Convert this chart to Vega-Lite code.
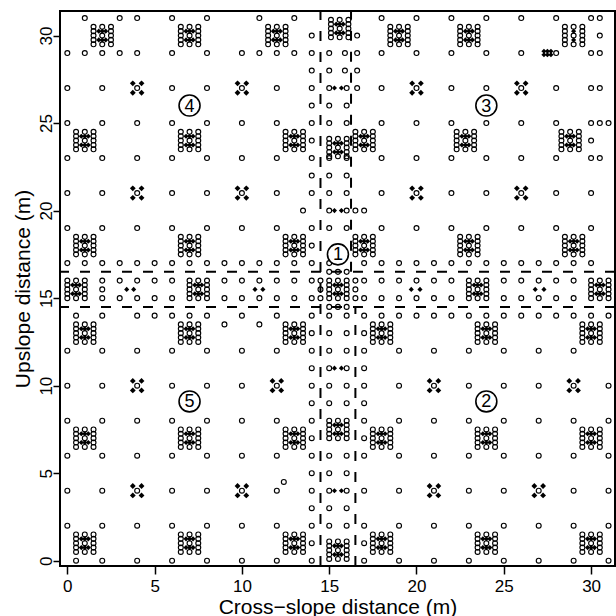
{
"$schema":"https://vega.github.io/schema/vega-lite/v6.json",
"width":555,"height":555,
"autosize":{"type":"none"},
"padding":{"left":60,"top":11,"right":1,"bottom":50},
"background":"white",
"config":{"view":{"stroke":"black","strokeWidth":2},"font":"Liberation Sans"},
"datasets":{
"grid":[
{"x":1,"y":31},{"x":3,"y":31},{"x":4,"y":31},{"x":6,"y":31},{"x":8,"y":31},{"x":11,"y":31},{"x":13,"y":31},{"x":18,"y":31},{"x":20,"y":31},{"x":22,"y":31},{"x":24,"y":31},{"x":26,"y":31},{"x":28,"y":31},{"x":30,"y":31},{"x":30.5,"y":31},
{"x":14,"y":30},{"x":16.6,"y":30},{"x":30.5,"y":30},
{"x":0,"y":29},{"x":1,"y":29},{"x":2,"y":29},{"x":3,"y":29},{"x":4,"y":29},{"x":6,"y":29},{"x":8,"y":29},{"x":10,"y":29},{"x":11,"y":29},{"x":12,"y":29},{"x":13,"y":29},{"x":14,"y":29},{"x":15,"y":29},{"x":15.9,"y":29},{"x":16.6,"y":29},{"x":18,"y":29},{"x":20,"y":29},{"x":22,"y":29},{"x":24,"y":29},{"x":26,"y":29},{"x":28,"y":29},{"x":30,"y":29},{"x":30.5,"y":29},
{"x":14,"y":28},{"x":15,"y":28},{"x":15.9,"y":28},{"x":16.6,"y":28},
{"x":0,"y":27},{"x":2,"y":27},{"x":6,"y":27},{"x":8,"y":27},{"x":12,"y":27},{"x":14,"y":27},{"x":15,"y":27},{"x":16,"y":27},{"x":16.6,"y":27},{"x":18,"y":27},{"x":22,"y":27},{"x":24,"y":27},{"x":28,"y":27},{"x":30,"y":27},{"x":30.5,"y":27},
{"x":14,"y":26},{"x":15,"y":26},{"x":16,"y":26},
{"x":0,"y":25},{"x":2,"y":25},{"x":4,"y":25},{"x":6,"y":25},{"x":8,"y":25},{"x":10,"y":25},{"x":12,"y":25},{"x":14,"y":25},{"x":15,"y":25},{"x":16,"y":25},{"x":18,"y":25},{"x":20,"y":25},{"x":22,"y":25},{"x":24,"y":25},{"x":26,"y":25},{"x":28,"y":25},{"x":30,"y":25},{"x":30.5,"y":25},{"x":31,"y":25},
{"x":14,"y":24},{"x":30,"y":24},
{"x":0,"y":23},{"x":2,"y":23},{"x":4,"y":23},{"x":6,"y":23},{"x":8,"y":23},{"x":10,"y":23},{"x":12,"y":23},{"x":14,"y":23},{"x":15,"y":23},{"x":16,"y":23},{"x":18,"y":23},{"x":20,"y":23},{"x":22,"y":23},{"x":24,"y":23},{"x":26,"y":23},{"x":28,"y":23},{"x":30,"y":23},{"x":30.5,"y":23},
{"x":14,"y":22},{"x":15,"y":22},{"x":16,"y":22},
{"x":0,"y":21},{"x":2,"y":21},{"x":6,"y":21},{"x":8,"y":21},{"x":12,"y":21},{"x":14,"y":21},{"x":15,"y":21},{"x":16,"y":21},{"x":18,"y":21},{"x":22,"y":21},{"x":24,"y":21},{"x":28,"y":21},{"x":30,"y":21},
{"x":13.5,"y":20},{"x":15,"y":20},{"x":16,"y":20},{"x":16.5,"y":20},{"x":17,"y":20},
{"x":0,"y":19},{"x":2,"y":19},{"x":4,"y":19},{"x":6,"y":19},{"x":8,"y":19},{"x":10,"y":19},{"x":12,"y":19},{"x":14,"y":19},{"x":15,"y":19},{"x":16,"y":19},{"x":18,"y":19},{"x":20,"y":19},{"x":22,"y":19},{"x":24,"y":19},{"x":26,"y":19},{"x":28,"y":19},{"x":30,"y":19},
{"x":14,"y":18},
{"x":0,"y":17},{"x":1,"y":17},{"x":2,"y":17},{"x":3,"y":17},{"x":4,"y":17},{"x":5,"y":17},{"x":6,"y":17},{"x":7,"y":17},{"x":8,"y":17},{"x":9,"y":17},{"x":10,"y":17},{"x":11,"y":17},{"x":12,"y":17},{"x":13,"y":17},{"x":14,"y":17},{"x":15,"y":17},{"x":17,"y":17},{"x":18,"y":17},{"x":19,"y":17},{"x":20,"y":17},{"x":21,"y":17},{"x":22,"y":17},{"x":23,"y":17},{"x":24,"y":17},{"x":25,"y":17},{"x":26,"y":17},{"x":27,"y":17},{"x":28,"y":17},{"x":29,"y":17},{"x":30,"y":17},
{"x":2,"y":16},{"x":3,"y":16},{"x":4,"y":16},{"x":5,"y":16},{"x":6,"y":16},{"x":9,"y":16},{"x":10,"y":16},{"x":11,"y":16},{"x":12,"y":16},{"x":13,"y":16},{"x":14,"y":16},{"x":17,"y":16},{"x":18,"y":16},{"x":19,"y":16},{"x":20,"y":16},{"x":21,"y":16},{"x":22,"y":16},{"x":25,"y":16},{"x":26,"y":16},{"x":27,"y":16},{"x":28,"y":16},{"x":29,"y":16},
{"x":2,"y":15.5},
{"x":2,"y":15},{"x":3,"y":15},{"x":4,"y":15},{"x":5,"y":15},{"x":6,"y":15},{"x":9,"y":15},{"x":10,"y":15},{"x":11,"y":15},{"x":12,"y":15},{"x":13,"y":15},{"x":14,"y":15},{"x":17,"y":15},{"x":18,"y":15},{"x":19,"y":15},{"x":20,"y":15},{"x":21,"y":15},{"x":22,"y":15},{"x":25,"y":15},{"x":26,"y":15},{"x":27,"y":15},{"x":28,"y":15},{"x":29,"y":15},
{"x":14.5,"y":15},{"x":14.5,"y":15.5},{"x":14.5,"y":16},{"x":16.5,"y":15},{"x":16.5,"y":15.5},{"x":16.5,"y":16},{"x":15,"y":16.5},{"x":15.5,"y":16.5},{"x":16,"y":16.5},{"x":15,"y":14.5},{"x":15.5,"y":14.5},{"x":16,"y":14.5},
{"x":0.5,"y":14},{"x":2,"y":14},{"x":4,"y":14},{"x":5,"y":14},{"x":6,"y":14},{"x":7,"y":14},{"x":8,"y":14},{"x":10,"y":14},{"x":12,"y":14},{"x":14,"y":14},{"x":15,"y":14},{"x":16,"y":14},{"x":17,"y":14},{"x":18,"y":14},{"x":19,"y":14},{"x":20,"y":14},{"x":21,"y":14},{"x":22,"y":14},{"x":23,"y":14},{"x":24,"y":14},{"x":25,"y":14},{"x":26,"y":14},{"x":27,"y":14},{"x":28,"y":14},{"x":29,"y":14},{"x":30,"y":14},{"x":31,"y":14},
{"x":9,"y":13.5},{"x":11,"y":13.5},
{"x":14,"y":13},{"x":15,"y":13},{"x":16,"y":13},{"x":17,"y":13},
{"x":0,"y":12},{"x":2,"y":12},{"x":4,"y":12},{"x":6,"y":12},{"x":8,"y":12},{"x":10,"y":12},{"x":12,"y":12},{"x":14,"y":12},{"x":15,"y":12},{"x":16,"y":12},{"x":17,"y":12},{"x":19,"y":12},{"x":21,"y":12},{"x":23,"y":12},{"x":25,"y":12},{"x":27,"y":12},{"x":29,"y":12},
{"x":14,"y":11},{"x":15,"y":11},{"x":16,"y":11},{"x":17,"y":11},
{"x":0,"y":10},{"x":2,"y":10},{"x":6,"y":10},{"x":8,"y":10},{"x":10,"y":10},{"x":14,"y":10},{"x":15,"y":10},{"x":16,"y":10},{"x":17,"y":10},{"x":19,"y":10},{"x":23,"y":10},{"x":25,"y":10},{"x":27,"y":10},{"x":31,"y":10},
{"x":14,"y":9},{"x":15,"y":9},{"x":16,"y":9},{"x":17,"y":9},
{"x":0,"y":8},{"x":2,"y":8},{"x":4,"y":8},{"x":6,"y":8},{"x":8,"y":8},{"x":10,"y":8},{"x":12,"y":8},{"x":14,"y":8},{"x":17,"y":8},{"x":19,"y":8},{"x":21,"y":8},{"x":23,"y":8},{"x":25,"y":8},{"x":27,"y":8},{"x":29,"y":8},{"x":31,"y":8},
{"x":14,"y":7},{"x":17,"y":7},
{"x":0,"y":6},{"x":2,"y":6},{"x":4,"y":6},{"x":6,"y":6},{"x":8,"y":6},{"x":10,"y":6},{"x":12,"y":6},{"x":14,"y":6},{"x":15,"y":6},{"x":16,"y":6},{"x":17,"y":6},{"x":19,"y":6},{"x":21,"y":6},{"x":23,"y":6},{"x":25,"y":6},{"x":27,"y":6},{"x":29,"y":6},{"x":31,"y":6},
{"x":14,"y":5},{"x":15,"y":5},{"x":16,"y":5},
{"x":12.4,"y":4.5},
{"x":0,"y":4},{"x":2,"y":4},{"x":6,"y":4},{"x":8,"y":4},{"x":12,"y":4},{"x":14,"y":4},{"x":15,"y":4},{"x":16,"y":4},{"x":17,"y":4},{"x":19,"y":4},{"x":23,"y":4},{"x":25,"y":4},{"x":29,"y":4},{"x":31,"y":4},
{"x":14,"y":3},{"x":15,"y":3},{"x":16,"y":3},
{"x":0,"y":2},{"x":2,"y":2},{"x":4,"y":2},{"x":6,"y":2},{"x":8,"y":2},{"x":10,"y":2},{"x":12,"y":2},{"x":14,"y":2},{"x":15,"y":2},{"x":16,"y":2},{"x":17,"y":2},{"x":19,"y":2},{"x":21,"y":2},{"x":23,"y":2},{"x":25,"y":2},{"x":27,"y":2},{"x":29,"y":2},{"x":31,"y":2},
{"x":14,"y":1},{"x":17,"y":1},
{"x":0.5,"y":0},{"x":2,"y":0},{"x":4,"y":0},{"x":6,"y":0},{"x":8,"y":0},{"x":10,"y":0},{"x":12,"y":0},{"x":14,"y":0},{"x":17,"y":0},{"x":19,"y":0},{"x":21,"y":0},{"x":23,"y":0},{"x":25,"y":0},{"x":27,"y":0},{"x":29,"y":0},{"x":31,"y":0},
{"x":4,"y":27},{"x":10,"y":27},{"x":20,"y":27},{"x":26,"y":27},{"x":4,"y":21},{"x":10,"y":21},{"x":20,"y":21},{"x":26,"y":21},{"x":4,"y":10},{"x":12,"y":10},{"x":21,"y":10},{"x":29,"y":10},{"x":4,"y":4},{"x":10,"y":4},{"x":21,"y":4},{"x":27,"y":4}
],
"clus":[
{"x":0.5,"y":0.5},{"x":0.5,"y":0.75},{"x":0.5,"y":1},{"x":0.5,"y":1.25},{"x":0.5,"y":1.5},{"x":1.5,"y":0.5},{"x":1.5,"y":0.75},{"x":1.5,"y":1},{"x":1.5,"y":1.25},{"x":1.5,"y":1.5},{"x":1,"y":0.5},{"x":1,"y":1},{"x":1,"y":1.5},
{"x":6.5,"y":0.5},{"x":6.5,"y":0.75},{"x":6.5,"y":1},{"x":6.5,"y":1.25},{"x":6.5,"y":1.5},{"x":7.5,"y":0.5},{"x":7.5,"y":0.75},{"x":7.5,"y":1},{"x":7.5,"y":1.25},{"x":7.5,"y":1.5},{"x":7,"y":0.5},{"x":7,"y":1},{"x":7,"y":1.5},
{"x":12.5,"y":0.5},{"x":12.5,"y":0.75},{"x":12.5,"y":1},{"x":12.5,"y":1.25},{"x":12.5,"y":1.5},{"x":13.5,"y":0.5},{"x":13.5,"y":0.75},{"x":13.5,"y":1},{"x":13.5,"y":1.25},{"x":13.5,"y":1.5},{"x":13,"y":0.5},{"x":13,"y":1},{"x":13,"y":1.5},
{"x":0.5,"y":6.5},{"x":0.5,"y":6.75},{"x":0.5,"y":7},{"x":0.5,"y":7.25},{"x":0.5,"y":7.5},{"x":1.5,"y":6.5},{"x":1.5,"y":6.75},{"x":1.5,"y":7},{"x":1.5,"y":7.25},{"x":1.5,"y":7.5},{"x":1,"y":6.5},{"x":1,"y":7},{"x":1,"y":7.5},
{"x":6.5,"y":6.5},{"x":6.5,"y":6.75},{"x":6.5,"y":7},{"x":6.5,"y":7.25},{"x":6.5,"y":7.5},{"x":7.5,"y":6.5},{"x":7.5,"y":6.75},{"x":7.5,"y":7},{"x":7.5,"y":7.25},{"x":7.5,"y":7.5},{"x":7,"y":6.5},{"x":7,"y":7},{"x":7,"y":7.5},
{"x":12.5,"y":6.5},{"x":12.5,"y":6.75},{"x":12.5,"y":7},{"x":12.5,"y":7.25},{"x":12.5,"y":7.5},{"x":13.5,"y":6.5},{"x":13.5,"y":6.75},{"x":13.5,"y":7},{"x":13.5,"y":7.25},{"x":13.5,"y":7.5},{"x":13,"y":6.5},{"x":13,"y":7},{"x":13,"y":7.5},
{"x":0.5,"y":12.5},{"x":0.5,"y":12.75},{"x":0.5,"y":13},{"x":0.5,"y":13.25},{"x":0.5,"y":13.5},{"x":1.5,"y":12.5},{"x":1.5,"y":12.75},{"x":1.5,"y":13},{"x":1.5,"y":13.25},{"x":1.5,"y":13.5},{"x":1,"y":12.5},{"x":1,"y":13},{"x":1,"y":13.5},
{"x":6.5,"y":12.5},{"x":6.5,"y":12.75},{"x":6.5,"y":13},{"x":6.5,"y":13.25},{"x":6.5,"y":13.5},{"x":7.5,"y":12.5},{"x":7.5,"y":12.75},{"x":7.5,"y":13},{"x":7.5,"y":13.25},{"x":7.5,"y":13.5},{"x":7,"y":12.5},{"x":7,"y":13},{"x":7,"y":13.5},
{"x":12.5,"y":12.5},{"x":12.5,"y":12.75},{"x":12.5,"y":13},{"x":12.5,"y":13.25},{"x":12.5,"y":13.5},{"x":13.5,"y":12.5},{"x":13.5,"y":12.75},{"x":13.5,"y":13},{"x":13.5,"y":13.25},{"x":13.5,"y":13.5},{"x":13,"y":12.5},{"x":13,"y":13},{"x":13,"y":13.5},
{"x":17.5,"y":0.5},{"x":17.5,"y":0.75},{"x":17.5,"y":1},{"x":17.5,"y":1.25},{"x":17.5,"y":1.5},{"x":18.5,"y":0.5},{"x":18.5,"y":0.75},{"x":18.5,"y":1},{"x":18.5,"y":1.25},{"x":18.5,"y":1.5},{"x":18,"y":0.5},{"x":18,"y":1},{"x":18,"y":1.5},
{"x":23.5,"y":0.5},{"x":23.5,"y":0.75},{"x":23.5,"y":1},{"x":23.5,"y":1.25},{"x":23.5,"y":1.5},{"x":24.5,"y":0.5},{"x":24.5,"y":0.75},{"x":24.5,"y":1},{"x":24.5,"y":1.25},{"x":24.5,"y":1.5},{"x":24,"y":0.5},{"x":24,"y":1},{"x":24,"y":1.5},
{"x":29.5,"y":0.5},{"x":29.5,"y":0.75},{"x":29.5,"y":1},{"x":29.5,"y":1.25},{"x":29.5,"y":1.5},{"x":30.5,"y":0.5},{"x":30.5,"y":0.75},{"x":30.5,"y":1},{"x":30.5,"y":1.25},{"x":30.5,"y":1.5},{"x":30,"y":0.5},{"x":30,"y":1},{"x":30,"y":1.5},
{"x":17.5,"y":6.5},{"x":17.5,"y":6.75},{"x":17.5,"y":7},{"x":17.5,"y":7.25},{"x":17.5,"y":7.5},{"x":18.5,"y":6.5},{"x":18.5,"y":6.75},{"x":18.5,"y":7},{"x":18.5,"y":7.25},{"x":18.5,"y":7.5},{"x":18,"y":6.5},{"x":18,"y":7},{"x":18,"y":7.5},
{"x":23.5,"y":6.5},{"x":23.5,"y":6.75},{"x":23.5,"y":7},{"x":23.5,"y":7.25},{"x":23.5,"y":7.5},{"x":24.5,"y":6.5},{"x":24.5,"y":6.75},{"x":24.5,"y":7},{"x":24.5,"y":7.25},{"x":24.5,"y":7.5},{"x":24,"y":6.5},{"x":24,"y":7},{"x":24,"y":7.5},
{"x":29.5,"y":6.5},{"x":29.5,"y":6.75},{"x":29.5,"y":7},{"x":29.5,"y":7.25},{"x":29.5,"y":7.5},{"x":30.5,"y":6.5},{"x":30.5,"y":6.75},{"x":30.5,"y":7},{"x":30.5,"y":7.25},{"x":30.5,"y":7.5},{"x":30,"y":6.5},{"x":30,"y":7},{"x":30,"y":7.5},
{"x":17.5,"y":12.5},{"x":17.5,"y":12.75},{"x":17.5,"y":13},{"x":17.5,"y":13.25},{"x":17.5,"y":13.5},{"x":18.5,"y":12.5},{"x":18.5,"y":12.75},{"x":18.5,"y":13},{"x":18.5,"y":13.25},{"x":18.5,"y":13.5},{"x":18,"y":12.5},{"x":18,"y":13},{"x":18,"y":13.5},
{"x":23.5,"y":12.5},{"x":23.5,"y":12.75},{"x":23.5,"y":13},{"x":23.5,"y":13.25},{"x":23.5,"y":13.5},{"x":24.5,"y":12.5},{"x":24.5,"y":12.75},{"x":24.5,"y":13},{"x":24.5,"y":13.25},{"x":24.5,"y":13.5},{"x":24,"y":12.5},{"x":24,"y":13},{"x":24,"y":13.5},
{"x":29.5,"y":12.5},{"x":29.5,"y":12.75},{"x":29.5,"y":13},{"x":29.5,"y":13.25},{"x":29.5,"y":13.5},{"x":30.5,"y":12.5},{"x":30.5,"y":12.75},{"x":30.5,"y":13},{"x":30.5,"y":13.25},{"x":30.5,"y":13.5},{"x":30,"y":12.5},{"x":30,"y":13},{"x":30,"y":13.5},
{"x":1.5,"y":29.5},{"x":1.5,"y":29.75},{"x":1.5,"y":30},{"x":1.5,"y":30.25},{"x":1.5,"y":30.5},{"x":2.5,"y":29.5},{"x":2.5,"y":29.75},{"x":2.5,"y":30},{"x":2.5,"y":30.25},{"x":2.5,"y":30.5},{"x":2,"y":29.5},{"x":2,"y":30},{"x":2,"y":30.5},
{"x":6.5,"y":29.5},{"x":6.5,"y":29.75},{"x":6.5,"y":30},{"x":6.5,"y":30.25},{"x":6.5,"y":30.5},{"x":7.5,"y":29.5},{"x":7.5,"y":29.75},{"x":7.5,"y":30},{"x":7.5,"y":30.25},{"x":7.5,"y":30.5},{"x":7,"y":29.5},{"x":7,"y":30},{"x":7,"y":30.5},
{"x":11.5,"y":29.5},{"x":11.5,"y":29.75},{"x":11.5,"y":30},{"x":11.5,"y":30.25},{"x":11.5,"y":30.5},{"x":12.5,"y":29.5},{"x":12.5,"y":29.75},{"x":12.5,"y":30},{"x":12.5,"y":30.25},{"x":12.5,"y":30.5},{"x":12,"y":29.5},{"x":12,"y":30},{"x":12,"y":30.5},
{"x":0.5,"y":23.5},{"x":0.5,"y":23.75},{"x":0.5,"y":24},{"x":0.5,"y":24.25},{"x":0.5,"y":24.5},{"x":1.5,"y":23.5},{"x":1.5,"y":23.75},{"x":1.5,"y":24},{"x":1.5,"y":24.25},{"x":1.5,"y":24.5},{"x":1,"y":23.5},{"x":1,"y":24},{"x":1,"y":24.5},
{"x":6.5,"y":23.5},{"x":6.5,"y":23.75},{"x":6.5,"y":24},{"x":6.5,"y":24.25},{"x":6.5,"y":24.5},{"x":7.5,"y":23.5},{"x":7.5,"y":23.75},{"x":7.5,"y":24},{"x":7.5,"y":24.25},{"x":7.5,"y":24.5},{"x":7,"y":23.5},{"x":7,"y":24},{"x":7,"y":24.5},
{"x":12.5,"y":23.5},{"x":12.5,"y":23.75},{"x":12.5,"y":24},{"x":12.5,"y":24.25},{"x":12.5,"y":24.5},{"x":13.5,"y":23.5},{"x":13.5,"y":23.75},{"x":13.5,"y":24},{"x":13.5,"y":24.25},{"x":13.5,"y":24.5},{"x":13,"y":23.5},{"x":13,"y":24},{"x":13,"y":24.5},
{"x":0.5,"y":17.5},{"x":0.5,"y":17.75},{"x":0.5,"y":18},{"x":0.5,"y":18.25},{"x":0.5,"y":18.5},{"x":1.5,"y":17.5},{"x":1.5,"y":17.75},{"x":1.5,"y":18},{"x":1.5,"y":18.25},{"x":1.5,"y":18.5},{"x":1,"y":17.5},{"x":1,"y":18},{"x":1,"y":18.5},
{"x":6.5,"y":17.5},{"x":6.5,"y":17.75},{"x":6.5,"y":18},{"x":6.5,"y":18.25},{"x":6.5,"y":18.5},{"x":7.5,"y":17.5},{"x":7.5,"y":17.75},{"x":7.5,"y":18},{"x":7.5,"y":18.25},{"x":7.5,"y":18.5},{"x":7,"y":17.5},{"x":7,"y":18},{"x":7,"y":18.5},
{"x":12.5,"y":17.5},{"x":12.5,"y":17.75},{"x":12.5,"y":18},{"x":12.5,"y":18.25},{"x":12.5,"y":18.5},{"x":13.5,"y":17.5},{"x":13.5,"y":17.75},{"x":13.5,"y":18},{"x":13.5,"y":18.25},{"x":13.5,"y":18.5},{"x":13,"y":17.5},{"x":13,"y":18},{"x":13,"y":18.5},
{"x":18.5,"y":29.5},{"x":18.5,"y":29.75},{"x":18.5,"y":30},{"x":18.5,"y":30.25},{"x":18.5,"y":30.5},{"x":19.5,"y":29.5},{"x":19.5,"y":29.75},{"x":19.5,"y":30},{"x":19.5,"y":30.25},{"x":19.5,"y":30.5},{"x":19,"y":29.5},{"x":19,"y":30},{"x":19,"y":30.5},
{"x":22.5,"y":29.5},{"x":22.5,"y":29.75},{"x":22.5,"y":30},{"x":22.5,"y":30.25},{"x":22.5,"y":30.5},{"x":23.5,"y":29.5},{"x":23.5,"y":29.75},{"x":23.5,"y":30},{"x":23.5,"y":30.25},{"x":23.5,"y":30.5},{"x":23,"y":29.5},{"x":23,"y":30},{"x":23,"y":30.5},
{"x":28.5,"y":29.5},{"x":28.5,"y":29.75},{"x":28.5,"y":30},{"x":28.5,"y":30.25},{"x":28.5,"y":30.5},{"x":29.5,"y":29.5},{"x":29.5,"y":29.75},{"x":29.5,"y":30},{"x":29.5,"y":30.25},{"x":29.5,"y":30.5},{"x":29,"y":29.5},{"x":29,"y":30},{"x":29,"y":30.5},
{"x":16.5,"y":23.5},{"x":16.5,"y":23.75},{"x":16.5,"y":24},{"x":16.5,"y":24.25},{"x":16.5,"y":24.5},{"x":17.5,"y":23.5},{"x":17.5,"y":23.75},{"x":17.5,"y":24},{"x":17.5,"y":24.25},{"x":17.5,"y":24.5},{"x":17,"y":23.5},{"x":17,"y":24},{"x":17,"y":24.5},
{"x":22.3,"y":23.5},{"x":22.3,"y":23.75},{"x":22.3,"y":24},{"x":22.3,"y":24.25},{"x":22.3,"y":24.5},{"x":23.3,"y":23.5},{"x":23.3,"y":23.75},{"x":23.3,"y":24},{"x":23.3,"y":24.25},{"x":23.3,"y":24.5},{"x":22.8,"y":23.5},{"x":22.8,"y":24},{"x":22.8,"y":24.5},
{"x":28.3,"y":23.5},{"x":28.3,"y":23.75},{"x":28.3,"y":24},{"x":28.3,"y":24.25},{"x":28.3,"y":24.5},{"x":29.3,"y":23.5},{"x":29.3,"y":23.75},{"x":29.3,"y":24},{"x":29.3,"y":24.25},{"x":29.3,"y":24.5},{"x":28.8,"y":23.5},{"x":28.8,"y":24},{"x":28.8,"y":24.5},
{"x":16.5,"y":17.5},{"x":16.5,"y":17.75},{"x":16.5,"y":18},{"x":16.5,"y":18.25},{"x":16.5,"y":18.5},{"x":17.5,"y":17.5},{"x":17.5,"y":17.75},{"x":17.5,"y":18},{"x":17.5,"y":18.25},{"x":17.5,"y":18.5},{"x":17,"y":17.5},{"x":17,"y":18},{"x":17,"y":18.5},
{"x":22.5,"y":17.5},{"x":22.5,"y":17.75},{"x":22.5,"y":18},{"x":22.5,"y":18.25},{"x":22.5,"y":18.5},{"x":23.5,"y":17.5},{"x":23.5,"y":17.75},{"x":23.5,"y":18},{"x":23.5,"y":18.25},{"x":23.5,"y":18.5},{"x":23,"y":17.5},{"x":23,"y":18},{"x":23,"y":18.5},
{"x":28.5,"y":17.5},{"x":28.5,"y":17.75},{"x":28.5,"y":18},{"x":28.5,"y":18.25},{"x":28.5,"y":18.5},{"x":29.5,"y":17.5},{"x":29.5,"y":17.75},{"x":29.5,"y":18},{"x":29.5,"y":18.25},{"x":29.5,"y":18.5},{"x":29,"y":17.5},{"x":29,"y":18},{"x":29,"y":18.5},
{"x":15,"y":0.1},{"x":15,"y":0.35},{"x":15,"y":0.6},{"x":15,"y":0.85},{"x":15,"y":1.1},{"x":16,"y":0.1},{"x":16,"y":0.35},{"x":16,"y":0.6},{"x":16,"y":0.85},{"x":16,"y":1.1},{"x":15.5,"y":0.1},{"x":15.5,"y":0.6},{"x":15.5,"y":1.1},
{"x":15,"y":7},{"x":15,"y":7.25},{"x":15,"y":7.5},{"x":15,"y":7.75},{"x":15,"y":8},{"x":16,"y":7},{"x":16,"y":7.25},{"x":16,"y":7.5},{"x":16,"y":7.75},{"x":16,"y":8},{"x":15.5,"y":7},{"x":15.5,"y":7.5},{"x":15.5,"y":8},
{"x":15,"y":15},{"x":15,"y":15.25},{"x":15,"y":15.5},{"x":15,"y":15.75},{"x":15,"y":16},{"x":16,"y":15},{"x":16,"y":15.25},{"x":16,"y":15.5},{"x":16,"y":15.75},{"x":16,"y":16},{"x":15.5,"y":15},{"x":15.5,"y":15.5},{"x":15.5,"y":16},
{"x":15,"y":23.1},{"x":15,"y":23.35},{"x":15,"y":23.6},{"x":15,"y":23.85},{"x":15,"y":24.1},{"x":16,"y":23.1},{"x":16,"y":23.35},{"x":16,"y":23.6},{"x":16,"y":23.85},{"x":16,"y":24.1},{"x":15.5,"y":23.1},{"x":15.5,"y":23.6},{"x":15.5,"y":24.1},
{"x":15.1,"y":29.9},{"x":15.1,"y":30.15},{"x":15.1,"y":30.4},{"x":15.1,"y":30.65},{"x":15.1,"y":30.9},{"x":16.1,"y":29.9},{"x":16.1,"y":30.15},{"x":16.1,"y":30.4},{"x":16.1,"y":30.65},{"x":16.1,"y":30.9},{"x":15.6,"y":29.9},{"x":15.6,"y":30.4},{"x":15.6,"y":30.9},
{"x":0,"y":15},{"x":0,"y":15.25},{"x":0,"y":15.5},{"x":0,"y":15.75},{"x":0,"y":16},{"x":1,"y":15},{"x":1,"y":15.25},{"x":1,"y":15.5},{"x":1,"y":15.75},{"x":1,"y":16},{"x":0.5,"y":15},{"x":0.5,"y":15.5},{"x":0.5,"y":16},
{"x":7,"y":15},{"x":7,"y":15.25},{"x":7,"y":15.5},{"x":7,"y":15.75},{"x":7,"y":16},{"x":8,"y":15},{"x":8,"y":15.25},{"x":8,"y":15.5},{"x":8,"y":15.75},{"x":8,"y":16},{"x":7.5,"y":15},{"x":7.5,"y":15.5},{"x":7.5,"y":16},
{"x":23,"y":15},{"x":23,"y":15.25},{"x":23,"y":15.5},{"x":23,"y":15.75},{"x":23,"y":16},{"x":24,"y":15},{"x":24,"y":15.25},{"x":24,"y":15.5},{"x":24,"y":15.75},{"x":24,"y":16},{"x":23.5,"y":15},{"x":23.5,"y":15.5},{"x":23.5,"y":16},
{"x":30,"y":15},{"x":30,"y":15.25},{"x":30,"y":15.5},{"x":30,"y":15.75},{"x":30,"y":16},{"x":31,"y":15},{"x":31,"y":15.25},{"x":31,"y":15.5},{"x":31,"y":15.75},{"x":31,"y":16},{"x":30.5,"y":15},{"x":30.5,"y":15.5},{"x":30.5,"y":16}
],
"dia":[
{"x":15.3,"y":27},{"x":15.7,"y":27},{"x":15.3,"y":20},{"x":15.7,"y":20},{"x":15.3,"y":11},{"x":15.7,"y":11},{"x":15.3,"y":4},{"x":15.7,"y":4},
{"x":3.4,"y":15.5},{"x":3.8,"y":15.5},{"x":10.75,"y":15.5},{"x":11.2,"y":15.5},{"x":19.7,"y":15.5},{"x":20.2,"y":15.5},{"x":26.8,"y":15.5},{"x":27.3,"y":15.5},
{"x":27.3,"y":29.1},{"x":27.5,"y":29.1},{"x":27.7,"y":29.1},{"x":27.3,"y":28.9},{"x":27.5,"y":28.9},{"x":27.7,"y":28.9},
{"x":15.3,"y":0.35},{"x":15.5,"y":0.35},{"x":15.7,"y":0.35},{"x":15.3,"y":0.85},{"x":15.5,"y":0.85},{"x":15.7,"y":0.85},
{"x":15.3,"y":7.25},{"x":15.5,"y":7.25},{"x":15.7,"y":7.25},{"x":15.3,"y":7.75},{"x":15.5,"y":7.75},{"x":15.7,"y":7.75},
{"x":15.3,"y":15.25},{"x":15.5,"y":15.25},{"x":15.7,"y":15.25},{"x":15.3,"y":15.75},{"x":15.5,"y":15.75},{"x":15.7,"y":15.75},
{"x":15.3,"y":23.35},{"x":15.5,"y":23.35},{"x":15.7,"y":23.35},{"x":15.3,"y":23.85},{"x":15.5,"y":23.85},{"x":15.7,"y":23.85},
{"x":15.4,"y":30.15},{"x":15.6,"y":30.15},{"x":15.8,"y":30.15},{"x":15.4,"y":30.65},{"x":15.6,"y":30.65},{"x":15.8,"y":30.65},
{"x":0.3,"y":15.25},{"x":0.5,"y":15.25},{"x":0.7,"y":15.25},{"x":0.3,"y":15.75},{"x":0.5,"y":15.75},{"x":0.7,"y":15.75},
{"x":7.3,"y":15.25},{"x":7.5,"y":15.25},{"x":7.7,"y":15.25},{"x":7.3,"y":15.75},{"x":7.5,"y":15.75},{"x":7.7,"y":15.75},
{"x":23.3,"y":15.25},{"x":23.5,"y":15.25},{"x":23.7,"y":15.25},{"x":23.3,"y":15.75},{"x":23.5,"y":15.75},{"x":23.7,"y":15.75},
{"x":30.3,"y":15.25},{"x":30.5,"y":15.25},{"x":30.7,"y":15.25},{"x":30.3,"y":15.75},{"x":30.5,"y":15.75},{"x":30.7,"y":15.75},
{"x":0.8,"y":0.75},{"x":1,"y":0.75},{"x":1.2,"y":0.75},{"x":0.8,"y":1.25},{"x":1,"y":1.25},{"x":1.2,"y":1.25},
{"x":6.8,"y":0.75},{"x":7,"y":0.75},{"x":7.2,"y":0.75},{"x":6.8,"y":1.25},{"x":7,"y":1.25},{"x":7.2,"y":1.25},
{"x":12.8,"y":0.75},{"x":13,"y":0.75},{"x":13.2,"y":0.75},{"x":12.8,"y":1.25},{"x":13,"y":1.25},{"x":13.2,"y":1.25},
{"x":0.8,"y":6.75},{"x":1,"y":6.75},{"x":1.2,"y":6.75},{"x":0.8,"y":7.25},{"x":1,"y":7.25},{"x":1.2,"y":7.25},
{"x":6.8,"y":6.75},{"x":7,"y":6.75},{"x":7.2,"y":6.75},{"x":6.8,"y":7.25},{"x":7,"y":7.25},{"x":7.2,"y":7.25},
{"x":12.8,"y":6.75},{"x":13,"y":6.75},{"x":13.2,"y":6.75},{"x":12.8,"y":7.25},{"x":13,"y":7.25},{"x":13.2,"y":7.25},
{"x":0.8,"y":12.75},{"x":1,"y":12.75},{"x":1.2,"y":12.75},{"x":0.8,"y":13.25},{"x":1,"y":13.25},{"x":1.2,"y":13.25},
{"x":6.8,"y":12.75},{"x":7,"y":12.75},{"x":7.2,"y":12.75},{"x":6.8,"y":13.25},{"x":7,"y":13.25},{"x":7.2,"y":13.25},
{"x":12.8,"y":12.75},{"x":13,"y":12.75},{"x":13.2,"y":12.75},{"x":12.8,"y":13.25},{"x":13,"y":13.25},{"x":13.2,"y":13.25},
{"x":17.8,"y":0.75},{"x":18,"y":0.75},{"x":18.2,"y":0.75},{"x":17.8,"y":1.25},{"x":18,"y":1.25},{"x":18.2,"y":1.25},
{"x":23.8,"y":0.75},{"x":24,"y":0.75},{"x":24.2,"y":0.75},{"x":23.8,"y":1.25},{"x":24,"y":1.25},{"x":24.2,"y":1.25},
{"x":29.8,"y":0.75},{"x":30,"y":0.75},{"x":30.2,"y":0.75},{"x":29.8,"y":1.25},{"x":30,"y":1.25},{"x":30.2,"y":1.25},
{"x":17.8,"y":6.75},{"x":18,"y":6.75},{"x":18.2,"y":6.75},{"x":17.8,"y":7.25},{"x":18,"y":7.25},{"x":18.2,"y":7.25},
{"x":23.8,"y":6.75},{"x":24,"y":6.75},{"x":24.2,"y":6.75},{"x":23.8,"y":7.25},{"x":24,"y":7.25},{"x":24.2,"y":7.25},
{"x":29.8,"y":6.75},{"x":30,"y":6.75},{"x":30.2,"y":6.75},{"x":29.8,"y":7.25},{"x":30,"y":7.25},{"x":30.2,"y":7.25},
{"x":17.8,"y":12.75},{"x":18,"y":12.75},{"x":18.2,"y":12.75},{"x":17.8,"y":13.25},{"x":18,"y":13.25},{"x":18.2,"y":13.25},
{"x":23.8,"y":12.75},{"x":24,"y":12.75},{"x":24.2,"y":12.75},{"x":23.8,"y":13.25},{"x":24,"y":13.25},{"x":24.2,"y":13.25},
{"x":29.8,"y":12.75},{"x":30,"y":12.75},{"x":30.2,"y":12.75},{"x":29.8,"y":13.25},{"x":30,"y":13.25},{"x":30.2,"y":13.25},
{"x":1.8,"y":29.75},{"x":2,"y":29.75},{"x":2.2,"y":29.75},{"x":1.8,"y":30.25},{"x":2,"y":30.25},{"x":2.2,"y":30.25},
{"x":6.8,"y":29.75},{"x":7,"y":29.75},{"x":7.2,"y":29.75},{"x":6.8,"y":30.25},{"x":7,"y":30.25},{"x":7.2,"y":30.25},
{"x":11.8,"y":29.75},{"x":12,"y":29.75},{"x":12.2,"y":29.75},{"x":11.8,"y":30.25},{"x":12,"y":30.25},{"x":12.2,"y":30.25},
{"x":0.8,"y":23.75},{"x":1,"y":23.75},{"x":1.2,"y":23.75},{"x":0.8,"y":24.25},{"x":1,"y":24.25},{"x":1.2,"y":24.25},
{"x":6.8,"y":23.75},{"x":7,"y":23.75},{"x":7.2,"y":23.75},{"x":6.8,"y":24.25},{"x":7,"y":24.25},{"x":7.2,"y":24.25},
{"x":12.8,"y":23.75},{"x":13,"y":23.75},{"x":13.2,"y":23.75},{"x":12.8,"y":24.25},{"x":13,"y":24.25},{"x":13.2,"y":24.25},
{"x":0.8,"y":17.75},{"x":1,"y":17.75},{"x":1.2,"y":17.75},{"x":0.8,"y":18.25},{"x":1,"y":18.25},{"x":1.2,"y":18.25},
{"x":6.8,"y":17.75},{"x":7,"y":17.75},{"x":7.2,"y":17.75},{"x":6.8,"y":18.25},{"x":7,"y":18.25},{"x":7.2,"y":18.25},
{"x":12.8,"y":17.75},{"x":13,"y":17.75},{"x":13.2,"y":17.75},{"x":12.8,"y":18.25},{"x":13,"y":18.25},{"x":13.2,"y":18.25},
{"x":18.8,"y":29.75},{"x":19,"y":29.75},{"x":19.2,"y":29.75},{"x":18.8,"y":30.25},{"x":19,"y":30.25},{"x":19.2,"y":30.25},
{"x":22.8,"y":29.75},{"x":23,"y":29.75},{"x":23.2,"y":29.75},{"x":22.8,"y":30.25},{"x":23,"y":30.25},{"x":23.2,"y":30.25},
{"x":29,"y":29.75},{"x":29,"y":30.25},
{"x":16.8,"y":23.75},{"x":17,"y":23.75},{"x":17.2,"y":23.75},{"x":16.8,"y":24.25},{"x":17,"y":24.25},{"x":17.2,"y":24.25},
{"x":22.6,"y":23.75},{"x":22.8,"y":23.75},{"x":23,"y":23.75},{"x":22.6,"y":24.25},{"x":22.8,"y":24.25},{"x":23,"y":24.25},
{"x":28.6,"y":23.75},{"x":28.8,"y":23.75},{"x":29,"y":23.75},{"x":28.6,"y":24.25},{"x":28.8,"y":24.25},{"x":29,"y":24.25},
{"x":16.8,"y":17.75},{"x":17,"y":17.75},{"x":17.2,"y":17.75},{"x":16.8,"y":18.25},{"x":17,"y":18.25},{"x":17.2,"y":18.25},
{"x":22.8,"y":17.75},{"x":23,"y":17.75},{"x":23.2,"y":17.75},{"x":22.8,"y":18.25},{"x":23,"y":18.25},{"x":23.2,"y":18.25},
{"x":28.8,"y":17.75},{"x":29,"y":17.75},{"x":29.2,"y":17.75},{"x":28.8,"y":18.25},{"x":29,"y":18.25},{"x":29.2,"y":18.25}
],
"xd":[
{"x":3.75,"y":27.27},{"x":4.25,"y":27.27},{"x":3.75,"y":26.73},{"x":4.25,"y":26.73},{"x":9.75,"y":27.27},{"x":10.25,"y":27.27},{"x":9.75,"y":26.73},{"x":10.25,"y":26.73},
{"x":19.75,"y":27.27},{"x":20.25,"y":27.27},{"x":19.75,"y":26.73},{"x":20.25,"y":26.73},{"x":25.75,"y":27.27},{"x":26.25,"y":27.27},{"x":25.75,"y":26.73},{"x":26.25,"y":26.73},
{"x":3.75,"y":21.27},{"x":4.25,"y":21.27},{"x":3.75,"y":20.73},{"x":4.25,"y":20.73},{"x":9.75,"y":21.27},{"x":10.25,"y":21.27},{"x":9.75,"y":20.73},{"x":10.25,"y":20.73},
{"x":19.75,"y":21.27},{"x":20.25,"y":21.27},{"x":19.75,"y":20.73},{"x":20.25,"y":20.73},{"x":25.75,"y":21.27},{"x":26.25,"y":21.27},{"x":25.75,"y":20.73},{"x":26.25,"y":20.73},
{"x":3.75,"y":10.27},{"x":4.25,"y":10.27},{"x":3.75,"y":9.73},{"x":4.25,"y":9.73},{"x":11.75,"y":10.27},{"x":12.25,"y":10.27},{"x":11.75,"y":9.73},{"x":12.25,"y":9.73},
{"x":20.75,"y":10.27},{"x":21.25,"y":10.27},{"x":20.75,"y":9.73},{"x":21.25,"y":9.73},{"x":28.75,"y":10.27},{"x":29.25,"y":10.27},{"x":28.75,"y":9.73},{"x":29.25,"y":9.73},
{"x":3.75,"y":4.27},{"x":4.25,"y":4.27},{"x":3.75,"y":3.73},{"x":4.25,"y":3.73},{"x":9.75,"y":4.27},{"x":10.25,"y":4.27},{"x":9.75,"y":3.73},{"x":10.25,"y":3.73},
{"x":20.75,"y":4.27},{"x":21.25,"y":4.27},{"x":20.75,"y":3.73},{"x":21.25,"y":3.73},{"x":26.75,"y":4.27},{"x":27.25,"y":4.27},{"x":26.75,"y":3.73},{"x":27.25,"y":3.73}
],
"lab":[{"x":15.5,"y":17.5,"t":"1"},{"x":24,"y":9.1,"t":"2"},{"x":24,"y":26,"t":"3"},{"x":7,"y":26,"t":"4"},{"x":7,"y":9.1,"t":"5"}],
"hl":[{"y":14.5},{"y":16.5}],
"vl":[{"x":14.5,"y":-0.3,"y2":31.4},{"x":16.5,"y":-0.3,"y2":14.5},{"x":16.25,"y":16.5,"y2":31.4}]
},
"layer":[
{"data":{"name":"grid"},"mark":{"type":"point","shape":"circle","filled":false,"stroke":"black","strokeWidth":1.15,"size":24,"opacity":1},
 "encoding":{
  "x":{"field":"x","type":"quantitative","scale":{"domain":[-0.42,31.37],"nice":false,"zero":false},
   "axis":{"values":[0,5,10,15,20,25,30],"title":"Cross−slope distance (m)","domain":false,"grid":false,"tickSize":8,"tickWidth":1.5,"tickColor":"black","labelFont":"Liberation Sans","labelFontSize":17,"labelColor":"black","labelPadding":4,"labelFlush":false,"labelOverlap":false,"titleFont":"Liberation Sans","titleFontSize":21,"titleFontWeight":"normal","titleColor":"black","titleBaseline":"alphabetic","titleX":277.5,"titleY":47}},
  "y":{"field":"y","type":"quantitative","scale":{"domain":[-0.3,31.4],"nice":false,"zero":false},
   "axis":{"values":[0,5,10,15,20,25,30],"title":"Upslope distance (m)","domain":false,"grid":false,"tickSize":7,"tickWidth":1.5,"tickColor":"black","labelFont":"Liberation Sans","labelFontSize":17,"labelColor":"black","labelAngle":-90,"labelAlign":"center","labelBaseline":"alphabetic","labelPadding":2,"labelFlush":false,"labelOverlap":false,"titleFont":"Liberation Sans","titleFontSize":21,"titleFontWeight":"normal","titleColor":"black","titleAngle":-90,"titleAlign":"center","titleBaseline":"alphabetic","titleX":-31,"titleY":277.5}}
 }},
{"data":{"name":"clus"},"mark":{"type":"point","shape":"circle","filled":false,"stroke":"black","strokeWidth":1.15,"size":24,"opacity":1},
 "encoding":{"x":{"field":"x","type":"quantitative"},"y":{"field":"y","type":"quantitative"}}},
{"data":{"name":"dia"},"mark":{"type":"point","shape":"diamond","filled":true,"fill":"black","strokeWidth":0,"size":26,"opacity":1},
 "encoding":{"x":{"field":"x","type":"quantitative"},"y":{"field":"y","type":"quantitative"}}},
{"data":{"name":"xd"},"mark":{"type":"point","shape":"diamond","filled":true,"fill":"black","strokeWidth":0,"size":34,"opacity":1},
 "encoding":{"x":{"field":"x","type":"quantitative"},"y":{"field":"y","type":"quantitative"}}},
{"data":{"name":"hl"},"mark":{"type":"rule","color":"black","strokeWidth":2,"strokeDash":[10,11]},
 "encoding":{"y":{"field":"y","type":"quantitative"}}},
{"data":{"name":"vl"},"mark":{"type":"rule","color":"black","strokeWidth":2,"strokeDash":[10,11]},
 "encoding":{"x":{"field":"x","type":"quantitative"},"y":{"field":"y","type":"quantitative"},"y2":{"field":"y2"}}},
{"data":{"name":"lab"},"mark":{"type":"point","shape":"circle","filled":true,"fill":"white","stroke":"black","strokeWidth":1.6,"size":440,"opacity":1},
 "encoding":{"x":{"field":"x","type":"quantitative"},"y":{"field":"y","type":"quantitative"}}},
{"data":{"name":"lab"},"mark":{"type":"text","font":"Liberation Sans","fontSize":18,"color":"black","align":"center","baseline":"middle","dy":1},
 "encoding":{"x":{"field":"x","type":"quantitative"},"y":{"field":"y","type":"quantitative"},"text":{"field":"t"}}}
]
}
